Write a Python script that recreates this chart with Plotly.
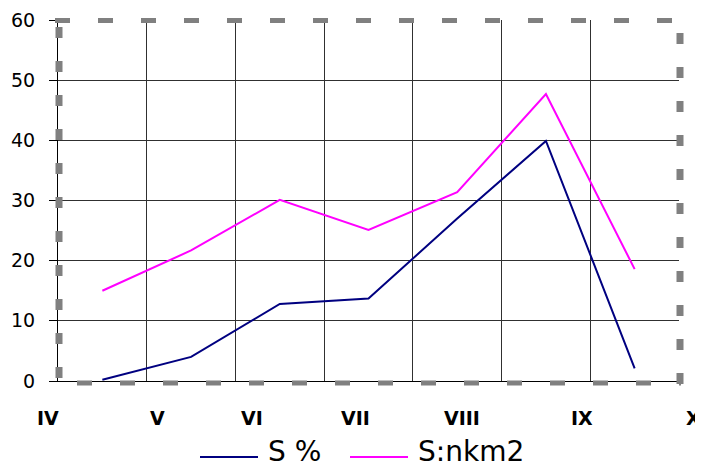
import plotly.graph_objects as go

# ---- data ----
months = ["IV", "V", "VI", "VII", "VIII", "IX", "X"]
s_percent = [0.2, 4.0, 12.8, 13.7, 27.0, 39.9, 2.1]
s_nkm2 = [15.0, 21.7, 30.1, 25.1, 31.4, 47.7, 18.6]
y_ticks = [0, 10, 20, 30, 40, 50, 60]

# plot-area geometry (page pixels) used for layout decorations
W, H = 703, 470
OFF = 8  # default page body margin
L, R, T, B = 58, 679, 20, 381


def px(xp):
    return (xp - L) / (R - L)


def py(yp):
    return (B - yp) / (B - T)


x_pos = [i + 0.5 for i in range(len(s_percent))]

fig = go.Figure()
fig.add_trace(go.Scatter(x=x_pos, y=s_percent, mode="lines", name="S %",
                         line=dict(color="#000080", width=2), showlegend=False))
fig.add_trace(go.Scatter(x=x_pos, y=s_nkm2, mode="lines", name="S:nkm2",
                         line=dict(color="#FF00FF", width=2), showlegend=False))

shapes = []
# dashed gray frame
frame = dict(type="line", xref="paper", yref="paper", layer="above")
shapes.append({**frame, "x0": px(55), "x1": px(681), "y0": py(20.5), "y1": py(20.5),
               "line": dict(color="#808080", width=5, dash="15px,28px")})
shapes.append({**frame, "x0": px(77), "x1": px(681), "y0": py(383), "y1": py(383),
               "line": dict(color="#808080", width=5, dash="15px,28px")})
shapes.append({**frame, "x0": px(59), "x1": px(59), "y0": py(27), "y1": py(381),
               "line": dict(color="#808080", width=7, dash="11px,23px")})
shapes.append({**frame, "x0": px(680), "x1": px(680), "y0": py(33), "y1": py(386),
               "line": dict(color="#808080", width=7, dash="11px,23px")})

# manual legend
leg_y = py(451)
shapes.append(dict(type="line", xref="paper", yref="paper", x0=px(200), x1=px(258),
                   y0=py(457), y1=py(457), line=dict(color="#000080", width=2)))
shapes.append(dict(type="line", xref="paper", yref="paper", x0=px(350), x1=px(408),
                   y0=py(457), y1=py(457), line=dict(color="#FF00FF", width=2)))

annotations = []
label_px = [48, 157, 252, 355, 462, 582, 693]
for lab, xp in zip(months, label_px):
    annotations.append(dict(text=lab, xref="paper", yref="paper", x=px(xp), y=py(418),
                            xanchor="center", yanchor="middle", showarrow=False,
                            font=dict(family="DejaVu Sans", size=19, color="black", weight="bold")))
annotations.append(dict(text="S %", xref="paper", yref="paper", x=px(266), y=leg_y,
                        xanchor="left", yanchor="middle", showarrow=False,
                        font=dict(family="DejaVu Sans", size=28, color="black")))
annotations.append(dict(text="S:nkm2", xref="paper", yref="paper", x=px(416), y=leg_y,
                        xanchor="left", yanchor="middle", showarrow=False,
                        font=dict(family="DejaVu Sans", size=28, color="black")))

fig.update_layout(
    width=W - OFF, height=H - OFF,
    margin=dict(l=L - OFF, r=W - R, t=T - OFF, b=H - B, autoexpand=False),
    paper_bgcolor="white", plot_bgcolor="white",
    shapes=shapes, annotations=annotations,
    showlegend=False,
)
fig.update_xaxes(range=[0, len(months)], tickvals=list(range(len(months) + 1)),
                 showticklabels=False, showgrid=True, gridcolor="#303030", gridwidth=1,
                 zeroline=False, showline=True, linecolor="black", linewidth=1, ticks="",
                 automargin=False)
fig.update_yaxes(range=[0, 60], tickvals=y_ticks, showgrid=True, gridcolor="#303030",
                 gridwidth=1, zeroline=False, showline=True, linecolor="black", linewidth=1,
                 ticks="outside", ticklen=8, tickcolor="black", ticklabelstandoff=10,
                 automargin=False,
                 tickfont=dict(family="DejaVu Sans", size=19, color="black"))

fig.write_html("out.html")
